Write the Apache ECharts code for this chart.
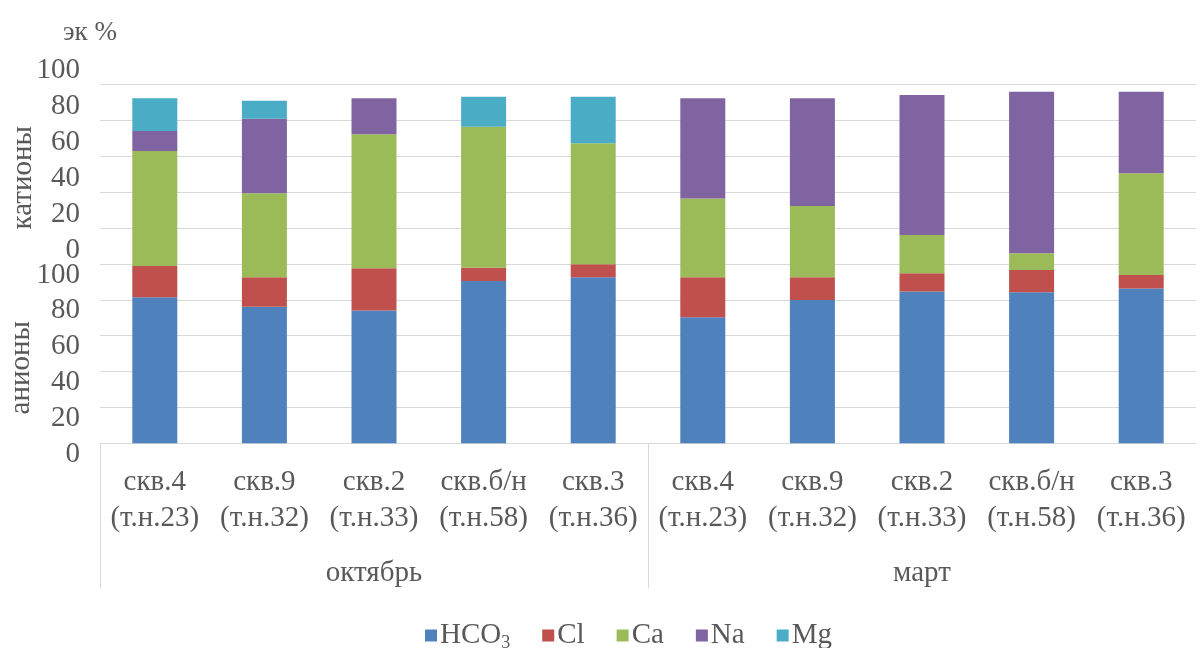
<!DOCTYPE html>
<html>
<head>
<meta charset="utf-8">
<script src="https://cdn.jsdelivr.net/npm/echarts@6/dist/echarts.min.js"></script>
<style>
html,body{margin:0;padding:0;background:#fff;}
#chart{width:1196px;height:648px;}
</style>
</head>
<body>
<div id="chart"></div>
<script>
// ---- data ----
const categories = [
  'скв.4\n(т.н.23)', 'скв.9\n(т.н.32)', 'скв.2\n(т.н.33)', 'скв.б/н\n(т.н.58)', 'скв.3\n(т.н.36)',
  'скв.4\n(т.н.23)', 'скв.9\n(т.н.32)', 'скв.2\n(т.н.33)', 'скв.б/н\n(т.н.58)', 'скв.3\n(т.н.36)'
];
const months = ['октябрь', 'март'];
const hco3 = [81.4, 76.2, 74.0, 90.5, 92.6, 70.3, 79.9, 84.6, 84.2, 86.4];
const cl   = [17.5, 16.4, 23.6, 7.4, 7.2, 22.3, 12.7, 10.2, 12.5, 7.5];
const ca   = [64.1, 46.8, 74.7, 78.7, 67.5, 44.0, 39.7, 21.4, 9.3, 56.7];
const na   = [11.2, 41.6, 20.1, 0, 0, 55.8, 60.1, 78.1, 90.1, 45.5];
const mg   = [18.2, 10.1, 0, 16.7, 26.0, 0, 0, 0, 0, 0];
const seriesNames = ['HCO3', 'Cl', 'Ca', 'Na', 'Mg'];
const anionTicks  = ['0', '20', '40', '60', '80', '100'];
const cationTicks = ['0', '20', '40', '60', '80', '100'];

const FONT = "'Liberation Serif', 'Times New Roman', serif";
const TXT = '#595959';
const GRID = '#d9d9d9';
const colors = ['#4F81BD', '#C0504D', '#9BBB59', '#8064A2', '#4BACC6'];
const FS = 29;

const chart = echarts.init(document.getElementById('chart'), null, {renderer: 'canvas'});

function anionLabel(v) {
  const i = Math.round(v / 20);
  return i <= 5 ? anionTicks[i] : '';
}
function cationLabel(v) {
  const i = Math.round(v / 20);
  return i >= 5 ? cationTicks[i - 5] : '';
}

const dataSets = [hco3, cl, ca, na, mg];
const yBase = {
  type: 'value', min: 0, max: 200, interval: 20, position: 'left', offset: 0,
  axisLine: {show: false}, axisTick: {show: false}
};

const option = {
  animation: false,
  color: colors,
  textStyle: {fontFamily: FONT},
  grid: {left: 100, width: 1105, top: 84.7, height: 358.6, containLabel: false},
  legend: {
    left: 420, top: 616,
    icon: 'rect', itemWidth: 12, itemHeight: 12, itemGap: 32,
    selectedMode: false,
    data: seriesNames,
    formatter: function (n) { return n === 'HCO3' ? '{a|HCO}{s|3}' : '{a|' + n + '}'; },
    textStyle: {
      color: TXT, fontFamily: FONT, fontSize: FS, padding: [0, 0, 0, -2],
      rich: {
        a: {fontFamily: FONT, fontSize: FS, color: TXT, lineHeight: 34, verticalAlign: 'middle'},
        s: {fontFamily: FONT, fontSize: 18, color: TXT, lineHeight: 16, verticalAlign: 'bottom'}
      }
    }
  },
  xAxis: [
    {
      type: 'category', data: categories, position: 'bottom',
      axisLine: {show: true, lineStyle: {color: GRID, width: 1}},
      axisTick: {show: false},
      axisLabel: {color: TXT, fontFamily: FONT, fontSize: FS, lineHeight: 36, margin: 21, interval: 0}
    },
    {
      type: 'category', data: months, position: 'bottom', offset: 0,
      axisLine: {show: false},
      axisTick: {show: true, length: 145, interval: 0, lineStyle: {color: GRID, width: 1}},
      axisLabel: {color: TXT, fontFamily: FONT, fontSize: FS, lineHeight: 32, margin: 114, interval: 0}
    }
  ],
  yAxis: [
    Object.assign({}, yBase, {
      name: 'эк %', nameLocation: 'end', nameGap: 38,
      nameTextStyle: {color: TXT, fontFamily: FONT, fontSize: 27, align: 'center', padding: [0, 20, 0, 0]},
      splitLine: {show: true, lineStyle: {color: GRID, width: 1}},
      axisLabel: {color: TXT, fontFamily: FONT, fontSize: FS, lineHeight: 22, margin: 20, align: 'right',
        verticalAlign: 'top', showMinLabel: true, showMaxLabel: true, hideOverlap: false, formatter: anionLabel}
    }),
    Object.assign({}, yBase, {
      splitLine: {show: false},
      axisLabel: {color: TXT, fontFamily: FONT, fontSize: FS, lineHeight: 28, margin: 20, align: 'right',
        verticalAlign: 'bottom', showMinLabel: true, showMaxLabel: true, hideOverlap: false, formatter: cationLabel}
    })
  ],
  graphic: [
    {type: 'text', left: 9, top: 126, rotation: Math.PI / 2,
     style: {text: 'катионы', fill: TXT, font: FS + 'px ' + FONT}},
    {type: 'text', left: 7, top: 321, rotation: Math.PI / 2,
     style: {text: 'анионы', fill: TXT, font: FS + 'px ' + FONT}}
  ],
  series: seriesNames.map((n, k) => ({
    name: n, type: 'bar', stack: 'all', barWidth: 45,
    xAxisIndex: 0, yAxisIndex: 0, data: dataSets[k],
    itemStyle: {color: colors[k]}
  }))
};
chart.setOption(option);
</script>
</body>
</html>
